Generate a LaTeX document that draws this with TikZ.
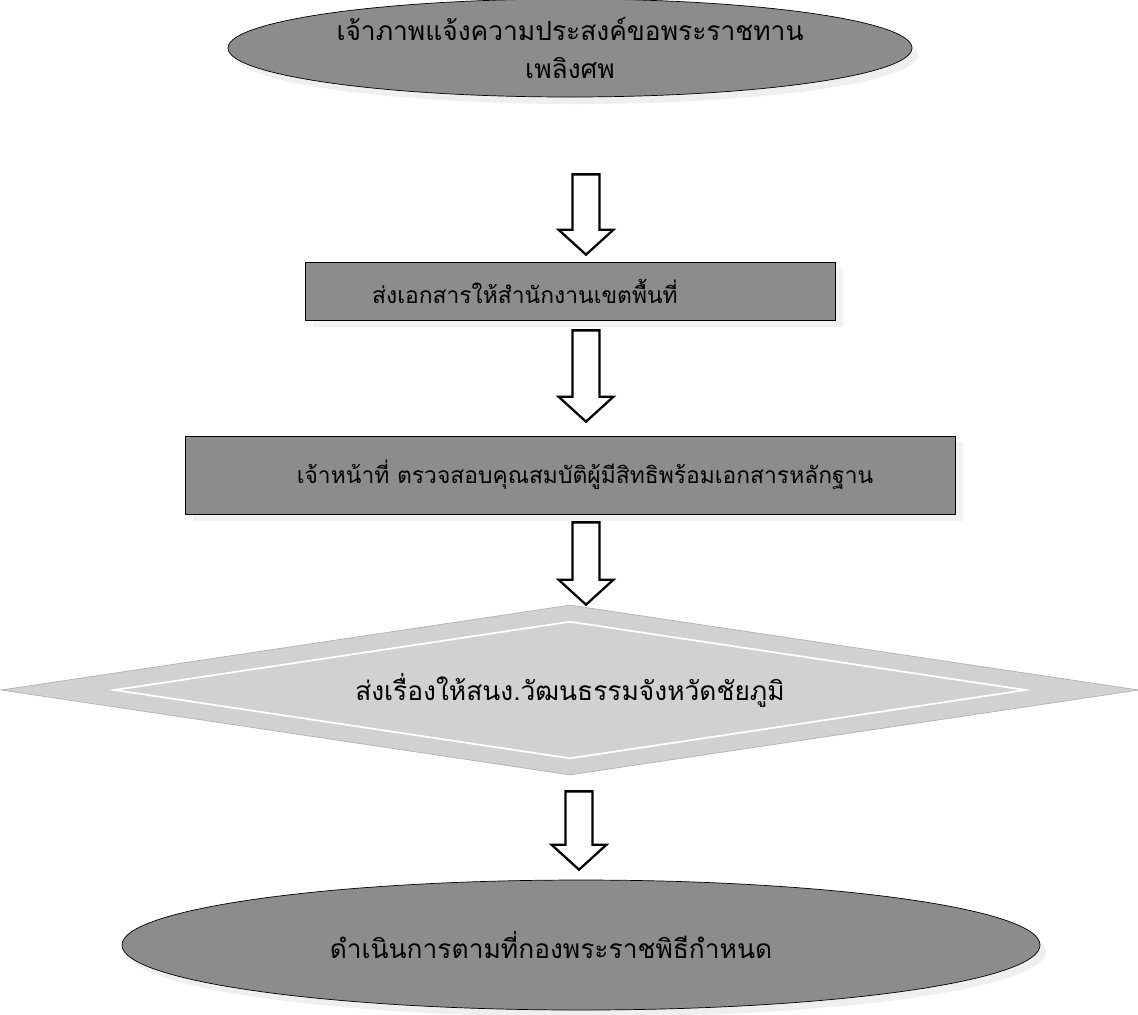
\documentclass[tikz,border=0pt]{standalone}
\usepackage{fontspec}
\newfontfamily\thaifont[Script=Thai]{Loma}
\usetikzlibrary{shapes.geometric, arrows.meta, positioning, shadows, calc}
\tikzstyle{terminal} = [ellipse, inner sep=0pt, text centered, align=center, draw=black, fill=black!45, drop shadow={shadow xshift=0.12cm, shadow yshift=-0.14cm, fill=black!12}]
\tikzstyle{process} = [rectangle, inner sep=0pt, text centered, draw=black, fill=black!45, font=\thaifont\fontsize{13pt}{18pt}\selectfont, drop shadow={shadow xshift=0.16cm, shadow yshift=-0.14cm, fill=black!10}]
\tikzstyle{decision} = [diamond, aspect=6.7, inner sep=0pt, text centered, draw=black!30, fill=black!18]
\tikzstyle{blockarrow} = [draw=black, line width=1.3pt, line join=miter, fill=white, to path={let \p1=(\tikztostart), \p2=(\tikztotarget) in (\x1-0.27cm,\y1) -- (\x1+0.27cm,\y1) -- (\x1+0.27cm,\y2+0.5cm) -- (\x1+0.55cm,\y2+0.5cm) -- (\x1,\y2) -- (\x1-0.55cm,\y2+0.5cm) -- (\x1-0.27cm,\y2+0.5cm) -- cycle}]

\begin{document}
\begin{tikzpicture}[node distance=4cm, every node/.style={font=\thaifont\fontsize{15pt}{22pt}\selectfont}]
\useasboundingbox (0,0) rectangle (22.76,-20.28);

\node (request) [terminal, minimum width=13.68cm, minimum height=1.96cm] at (11.4,-0.96) {เจ้าภาพแจ้งความประสงค์ขอพระราชทาน\\เพลิงศพ};
\node (send) [process, below of=request, yshift=-0.86cm, minimum width=10.6cm, minimum height=1.16cm] {ส่งเอกสารให้สำนักงานเขตพื้นที่\hspace*{1.8cm}};
\node (check) [process, below of=send, yshift=0.32cm, minimum width=15.4cm, minimum height=1.56cm] {\hspace*{0.6cm}เจ้าหน้าที่ ตรวจสอบคุณสมบัติผู้มีสิทธิพร้อมเอกสารหลักฐาน};
\node (forward) [decision, below of=check, yshift=-0.3cm, minimum width=22.76cm, minimum height=3.4cm] {ส่งเรื่องให้สนง.วัฒนธรรมจังหวัดชัยภูมิ};
\node (proceed) [terminal, below of=forward, yshift=-1.1cm, xshift=0.22cm, minimum width=18.36cm, minimum height=2.6cm] {ดำเนินการตามที่กองพระราชพิธีกำหนด\hspace*{1.2cm}};

% inner edge of the diamond
\draw [white, line width=1pt] ($(forward.north)!.2!(forward.center)$) -- ($(forward.east)!.2!(forward.center)$) -- ($(forward.south)!.2!(forward.center)$) -- ($(forward.west)!.2!(forward.center)$) -- cycle;

\draw [blockarrow] ([xshift=0.32cm, yshift=-1.54cm]request.south) to ([xshift=0.32cm, yshift=0.14cm]send.north);
\draw [blockarrow] ([xshift=0.32cm, yshift=-0.2cm]send.south) to ([xshift=0.32cm, yshift=0.28cm]check.north);
\draw [blockarrow] ([xshift=0.32cm, yshift=-0.16cm]check.south) to ([xshift=0.32cm]forward.north);
\draw [blockarrow] ([xshift=0.18cm, yshift=-0.32cm]forward.south) to ([xshift=-0.04cm, yshift=0.2cm]proceed.north);

\end{tikzpicture}
\end{document}
